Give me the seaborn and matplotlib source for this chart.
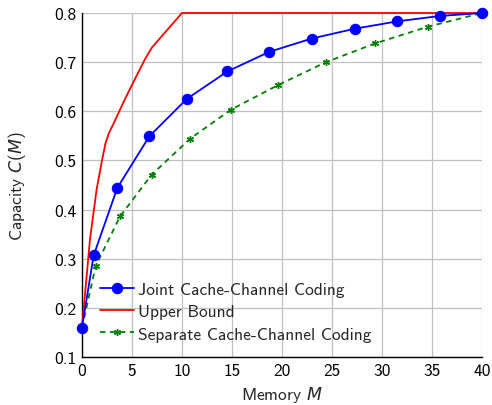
import matplotlib
matplotlib.use("Agg")
import matplotlib.pyplot as plt
import seaborn as sns
import pandas as pd

# Data
joint_M = [0, 1.17, 3.53, 6.73, 10.47, 14.53, 18.73, 22.97, 27.27, 31.53, 35.8, 40]
joint_C = [0.16, 0.307, 0.444, 0.549, 0.625, 0.681, 0.721, 0.748, 0.768, 0.783, 0.794, 0.8]

upper_M = [0, 0.8, 1.47, 2.0, 2.35, 2.7, 3.13, 4.3, 5.3, 6.3, 7.0, 10.0, 40]
upper_C = [0.16, 0.34, 0.442, 0.50, 0.535, 0.556, 0.574, 0.625, 0.666, 0.706, 0.73, 0.8, 0.8]

sep_M = [0, 1.37, 3.8, 6.97, 10.8, 14.87, 19.57, 24.4, 29.3, 34.57, 40]
sep_C = [0.16, 0.285, 0.386, 0.471, 0.544, 0.603, 0.653, 0.700, 0.738, 0.772, 0.8]

labels = ["Joint Cache-Channel Coding", "Upper Bound", "Separate Cache-Channel Coding"]
x_ticks = [0, 5, 10, 15, 20, 25, 30, 35, 40]
y_ticks = [0.1, 0.2, 0.3, 0.4, 0.5, 0.6, 0.7, 0.8]

sns.set_style("white")
plt.rcParams["font.family"] = ["cmss10", "DejaVu Sans"]
plt.rcParams["mathtext.fontset"] = "custom"
plt.rcParams["mathtext.it"] = "DejaVu Sans:italic"
plt.rcParams["mathtext.rm"] = "cmss10"
plt.rcParams["axes.unicode_minus"] = False
plt.rcParams["axes.formatter.use_mathtext"] = True

FS = 12.5
fig = plt.figure(figsize=(4.92, 4.06), dpi=100)
ax = fig.add_axes([82 / 492, 1 - 358 / 406, 400 / 492, 344 / 406])

df_j = pd.DataFrame({"M": joint_M, "C": joint_C})
df_u = pd.DataFrame({"M": upper_M, "C": upper_C})
df_s = pd.DataFrame({"M": sep_M, "C": sep_C})

sns.lineplot(data=df_j, x="M", y="C", ax=ax, color=(0, 0, 1), lw=1.3,
             marker="o", markersize=7.5, markeredgecolor=(0, 0, 1),
             label=labels[0], zorder=4, clip_on=False)
sns.lineplot(data=df_u, x="M", y="C", ax=ax, color=(1, 0, 0), lw=1.3,
             label=labels[1], zorder=3, clip_on=False)
sns.lineplot(data=df_s, x="M", y="C", ax=ax, color=(0, 0.5, 0), lw=1.3,
             marker=(6, 2, 0), markersize=5, markeredgecolor=(0, 0.5, 0),
             markeredgewidth=1.0, dashes=(3, 2.5),
             label=labels[2], zorder=3, clip_on=False)

ax.set_xlim(0, 40)
ax.set_ylim(0.1, 0.8)
ax.set_xticks(x_ticks)
ax.set_yticks(y_ticks)
ax.set_xticklabels([str(t) for t in x_ticks])
ax.set_yticklabels([f"{t:.1f}" for t in y_ticks])
ax.grid(True, color="#c0c0c0", lw=0.9)
ax.set_axisbelow(True)
for s in ["top", "right"]:
    ax.spines[s].set_visible(False)
for s in ["left", "bottom"]:
    ax.spines[s].set_color("black")
    ax.spines[s].set_linewidth(1.0)
ax.tick_params(direction="in", length=4, width=0.8, labelsize=FS, colors="black", pad=4)

ax.set_xlabel(r"Memory $M$", fontsize=FS, labelpad=5)
ax.set_ylabel(r"Capacity $C(M)$", fontsize=FS, labelpad=19)

leg = ax.legend(loc="lower left", bbox_to_anchor=(0.045, 0.045), frameon=False,
                fontsize=FS, handlelength=1.95, handletextpad=0.25, labelspacing=0.42,
                borderpad=0, borderaxespad=0)

fig.savefig("out.png", dpi=100)
